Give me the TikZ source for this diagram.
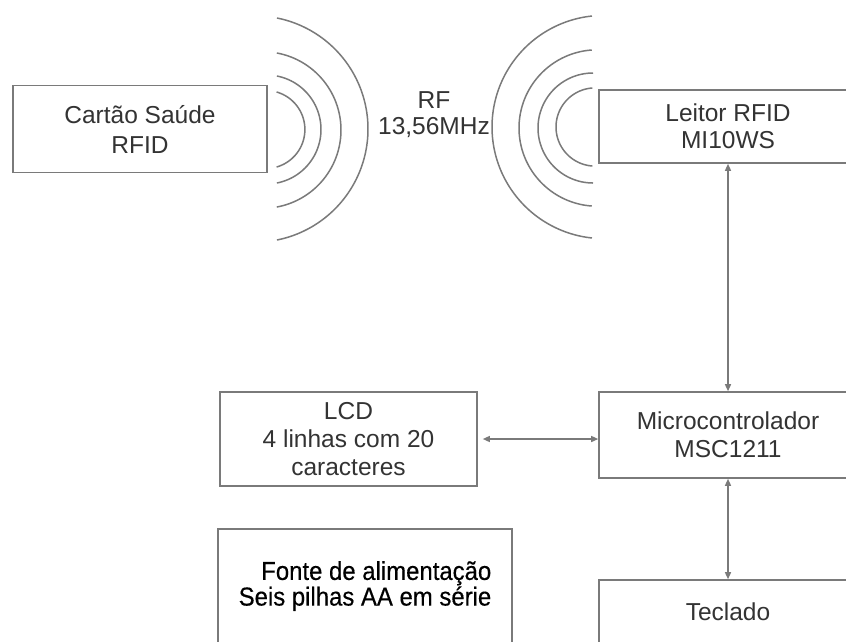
\documentclass[tikz,border=0pt]{standalone}
\usepackage{fontspec}
\setmainfont{Liberation Sans}
\newfontfamily\fontefont[FakeStretch=0.92,FakeBold=0.4]{Liberation Sans}
\usetikzlibrary{arrows.meta}
\definecolor{boxgray}{HTML}{7A7A7A}
\definecolor{txtgray}{HTML}{333333}
\begin{document}
\begin{tikzpicture}[x=1pt,y=-1pt,
  blk/.style={draw=boxgray, line width=1.6pt, align=center, inner sep=0pt,
    text=txtgray, font=\fontsize{24.5}{28}\selectfont},
  link/.style={draw=boxgray, line width=1.4pt,
    {Triangle[length=7pt,width=6pt]}-{Triangle[length=7pt,width=6pt]}},
  wave/.style={draw=boxgray, line width=1.5pt, smooth, samples=60}]
\useasboundingbox (0,0) rectangle (846,641);
\clip (0,0) rectangle (846,641);
\fill[white] (0,0) rectangle (846,641);
% boxes
\node[blk, minimum width=254pt, minimum height=87pt, font=\fontsize{24.5}{30}\selectfont] (card) at (140,129) {Cartão Saúde\\RFID};
\node[blk, minimum width=258pt, minimum height=73pt, font=\fontsize{24.5}{27}\selectfont] (leitor) at (728,126.5) {Leitor RFID\\MI10WS};
\node[blk, minimum width=257pt, minimum height=94pt] (lcd) at (348.5,439) {LCD\\4 linhas com 20\\caracteres};
\node[blk, minimum width=258pt, minimum height=86pt] (micro) at (728,435) {Microcontrolador\\MSC1211};
\node[blk, minimum width=258pt, minimum height=64pt] (tecl) at (728,612) {Teclado};
\node[blk, minimum width=294pt, minimum height=114pt, text=black, align=right, font=\fontefont\fontsize{26}{22}\selectfont] (fonte) at (365,586) {Fonte de alimentação\\Seis pilhas AA em série};
\node[align=center, text=txtgray, inner sep=0pt, font=\fontsize{24.5}{26}\selectfont] (rf) at (434,115) {RF\\13,56MHz};
% connectors
\coordinate (lcdR) at ([xshift=5pt]lcd.east);
\draw[link] (lcdR) -- (lcdR -| micro.west);
\draw[link] (leitor.south) -- (micro.north);
\draw[link] (micro.south) -- (tecl.north);
% left waves
\draw[wave] plot[domain=-78.7:78.7] ({254.8+113.2*cos(\x)},{129+113.2*sin(\x)});
\draw[wave] plot[domain=-79.6:79.6] ({262.7+78.3*cos(\x)},{130+78.3*sin(\x)});
\draw[wave] plot[domain=-79:79] ({266.5+54.5*cos(\x)},{129.5+54.5*sin(\x)});
\draw[wave] plot[domain=-74.1:74.1] ({265.9+39*cos(\x)},{129.5+39*sin(\x)});
% right waves
\draw[wave] plot[domain=96:264] ({603.6+111.6*cos(\x)},{127+111.6*sin(\x)});
\draw[wave] plot[domain=94:266] ({597.2+78.2*cos(\x)},{128+78.2*sin(\x)});
\draw[wave] plot[domain=90:270] ({593+55*cos(\x)},{128+55*sin(\x)});
\draw[wave] plot[domain=94.1:265.9] ({595.1+39.1*cos(\x)},{127+39.1*sin(\x)});
\end{tikzpicture}
\end{document}
